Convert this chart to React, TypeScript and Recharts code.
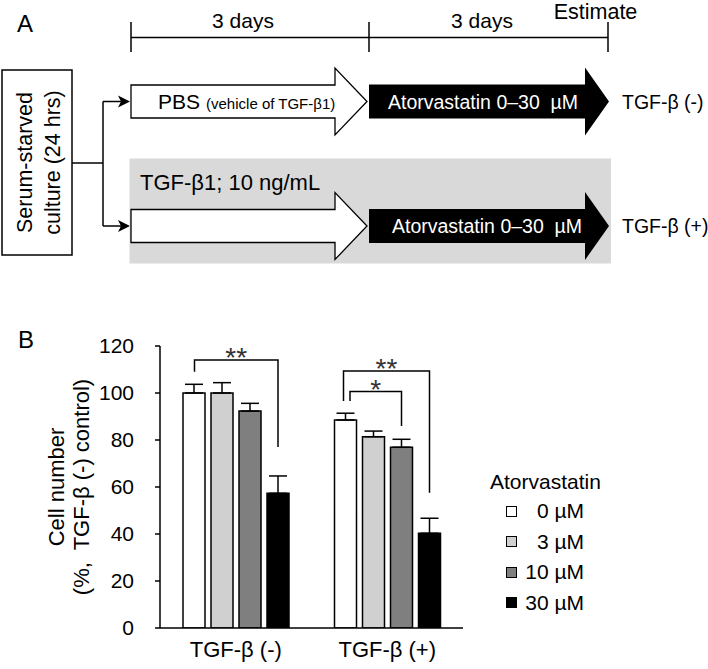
import React from "react";
import { BarChart, Bar, XAxis, YAxis, ErrorBar, Legend, Rectangle } from "recharts";

const FONT = '"Liberation Sans", Arial, sans-serif';

// panel B data
const categories = ["TGF-β (-)", "TGF-β (+)"];
const doseNames = ["0 µM", "3 µM", "10 µM", "30 µM"];
const doseFills = ["#ffffff", "#d0d0d0", "#7f7f7f", "#000000"];
const mean0 = [100, 88.5];
const mean3 = [100, 81.4];
const mean10 = [92.3, 76.9];
const mean30 = [57.3, 40.3];
const sem0 = [3.7, 2.9];
const sem3 = [4.4, 2.4];
const sem10 = [3.3, 3.4];
const sem30 = [7.4, 6.4];
const yTicks = [0, 20, 40, 60, 80, 100, 120];

// significance brackets (values in % units)
const bracketCat = [0, 1, 1];
const bracketFrom = [0, 0, 0];
const bracketTo = [3, 3, 2];
const bracketTop = [114, 109.4, 100.6];
const bracketLeftEnd = [109, 96.6, 96.6];
const bracketRightEnd = [77, 57.6, 86];
const bracketStars = ["**", "**", "*"];
const bracketNudge = [0.5, -2, 4.5];

const BAR_SIZE = 22;
const BAR_GAP = 6;

const rows = categories.map((cat, i) => ({
  idx: i,
  cat,
  c0: mean0[i],
  c3: mean3[i],
  c10: mean10[i],
  c30: mean30[i],
  e0: [0, sem0[i]],
  e3: [0, sem3[i]],
  e10: [0, sem10[i]],
  e30: [0, sem30[i]],
}));

// last bar of each group also draws the brackets for that group
function BarWithBrackets(props: any) {
  const { x, y, width, height, payload } = props;
  const unit = height / payload.c30;
  const base = y + height;
  const yOf = (v: number) => base - v * unit;
  const step = width + BAR_GAP;
  const centerOf = (s: number) => x + width / 2 - (3 - s) * step;
  return (
    <g>
      <Rectangle {...props} />
      {bracketCat.map((c, k) => {
        if (c !== payload.idx) return null;
        const xl = centerOf(bracketFrom[k]) + bracketNudge[k];
        const xr = centerOf(bracketTo[k]);
        const yt = yOf(bracketTop[k]);
        return (
          <g key={k}>
            <polyline
              points={`${xl},${yOf(bracketLeftEnd[k])} ${xl},${yt} ${xr},${yt} ${xr},${yOf(bracketRightEnd[k])}`}
              fill="none"
              stroke="#000"
              strokeWidth={1.5}
            />
            <text
              x={(xl + xr) / 2}
              y={yt + 7}
              textAnchor="middle"
              fontSize={28}
              fontFamily={FONT}
              fill="#333"
              stroke="none"
            >
              {bracketStars[k]}
            </text>
          </g>
        );
      })}
    </g>
  );
}

function YLabel({ viewBox }: any) {
  const x1 = viewBox.x - 44;
  const x2 = viewBox.x - 19;
  const cy = viewBox.y + viewBox.height / 2;
  return (
    <g fontFamily={FONT} fontSize={22} fill="#000">
      <text x={x1} y={cy} transform={`rotate(-90 ${x1} ${cy})`} textAnchor="middle" dominantBaseline="central">
        Cell number
      </text>
      <text x={x2} y={cy} transform={`rotate(-90 ${x2} ${cy})`} textAnchor="middle" dominantBaseline="central" style={{ whiteSpace: "pre" }}>
        (%,  TGF-β (-) control)
      </text>
    </g>
  );
}

function DoseLegend({ payload }: any) {
  const items = (payload && payload.length ? [...payload] : doseNames.map((n, i) => ({ value: n, color: doseFills[i] }))).sort(
    (a: any, b: any) => doseNames.indexOf(a.value) - doseNames.indexOf(b.value)
  );
  return (
    <div style={{ fontFamily: FONT, fontSize: 21, color: "#000" }}>
      <div style={{ height: 24, lineHeight: "24px", marginBottom: 2 }}>Atorvastatin</div>
      {items.map((it: any) => (
        <div key={it.value} style={{ display: "flex", alignItems: "center", height: 30.5 }}>
          <div
            style={{
              width: 11,
              height: 11,
              boxSizing: "border-box",
              border: "1.5px solid #000",
              background: it.color,
              marginLeft: 16,
            }}
          />
          <div style={{ width: 67, textAlign: "right", lineHeight: "24px" }}>{it.value}</div>
        </div>
      ))}
    </div>
  );
}

function whiteArrow(cy: number) {
  return `131,${cy - 16.5} 335,${cy - 16.5} 335,${cy - 33.5} 367,${cy} 335,${cy + 33.5} 335,${cy + 16.5} 131,${cy + 16.5}`;
}
function blackArrow(cy: number) {
  return `369,${cy - 17} 585,${cy - 17} 585,${cy - 34} 609,${cy} 585,${cy + 34} 585,${cy + 17} 369,${cy + 17}`;
}
function arrowHead(tx: number, cy: number) {
  return `${tx},${cy} ${tx - 12},${cy - 6} ${tx - 9},${cy} ${tx - 12},${cy + 6}`;
}

function Scheme() {
  const r1 = 101.5;
  const r2 = 226;
  return (
    <svg width={708} height={669} style={{ position: "absolute", left: 0, top: 0 }} fontFamily={FONT}>
      <text x={17} y={32} fontSize={24}>A</text>
      <text x={18} y={348} fontSize={24}>B</text>

      {/* timeline */}
      <g stroke="#000" strokeWidth={1.5}>
        <line x1={131} y1={37.5} x2={608} y2={37.5} />
        <line x1={131} y1={22} x2={131} y2={52} />
        <line x1={369} y1={22} x2={369} y2={52} />
        <line x1={608} y1={22} x2={608} y2={52} />
      </g>
      <text x={243} y={28} fontSize={21} textAnchor="middle">3 days</text>
      <text x={482} y={28} fontSize={21} textAnchor="middle">3 days</text>
      <text x={595.5} y={19} fontSize={21.5} textAnchor="middle">Estimate</text>

      {/* starting culture */}
      <rect x={2} y={70} width={70} height={185} fill="#fff" stroke="#000" strokeWidth={1.5} />
      <text x={25} y={162.5} fontSize={21.5} textAnchor="middle" dominantBaseline="central" transform="rotate(-90 25 162.5)">
        Serum-starved
      </text>
      <text x={53} y={162.5} fontSize={21.5} textAnchor="middle" dominantBaseline="central" transform="rotate(-90 53 162.5)">
        culture (24 hrs)
      </text>
      <g stroke="#000" strokeWidth={1.5} fill="none">
        <line x1={72} y1={163} x2={103} y2={163} />
        <line x1={103} y1={r1} x2={103} y2={r2} />
        <line x1={103} y1={r1} x2={124} y2={r1} />
        <line x1={103} y1={r2} x2={124} y2={r2} />
      </g>
      <polygon points={arrowHead(130, r1)} fill="#000" />
      <polygon points={arrowHead(130, r2)} fill="#000" />

      {/* TGF band */}
      <rect x={129.5} y={158.5} width={481.5} height={105} fill="#d9d9d9" />
      <text x={140} y={189.5} fontSize={22}>TGF-β1; 10 ng/mL</text>

      <polygon points={whiteArrow(r1)} fill="#fff" stroke="#000" strokeWidth={1.3} />
      <polygon points={whiteArrow(r2)} fill="#fff" stroke="#000" strokeWidth={1.3} />
      <polygon points={blackArrow(r1)} fill="#000" />
      <polygon points={blackArrow(r2)} fill="#000" />

      <text x={158} y={r1 + 7.5} fontSize={21}>
        PBS<tspan fontSize={15} dx={6}>(vehicle of TGF-β1)</tspan>
      </text>
      <text x={388} y={r1 + 7} fontSize={19.5} fill="#fff" style={{ whiteSpace: "pre" }}>
        Atorvastatin 0–30  µM
      </text>
      <text x={392} y={r2 + 7} fontSize={19.5} fill="#fff" style={{ whiteSpace: "pre" }}>
        Atorvastatin 0–30  µM
      </text>
      <text x={622} y={r1 + 7} fontSize={19.5}>TGF-β (-)</text>
      <text x={622} y={r2 + 7} fontSize={19.5}>TGF-β (+)</text>
    </svg>
  );
}

export default function App() {
  const keys = ["c0", "c3", "c10", "c30"];
  const errKeys = ["e0", "e3", "e10", "e30"];
  return (
    <div style={{ position: "absolute", left: 0, top: 0, width: 708, height: 669, background: "#fff" }}>
      <Scheme />
      <div style={{ position: "absolute", left: 0, top: 300 }}>
        <BarChart
          width={708}
          height={369}
          data={rows}
          barGap={BAR_GAP}
          margin={{ top: 46, right: 245, left: 100, bottom: 11 }}
          style={{ fontFamily: FONT }}
        >
          <XAxis
            dataKey="cat"
            height={30}
            tickLine={false}
            tickSize={0}
            tickMargin={13}
            axisLine={{ stroke: "#000", strokeWidth: 1.5 }}
            tick={{ fill: "#000", fontSize: 22, fontFamily: FONT }}
          />
          <YAxis
            width={60}
            domain={[0, 120]}
            ticks={yTicks}
            interval={0}
            allowDataOverflow
            tickSize={5}
            tickMargin={21}
            axisLine={{ stroke: "#000", strokeWidth: 1.5 }}
            tickLine={{ stroke: "#000", strokeWidth: 1.5 }}
            tick={{ fill: "#000", fontSize: 21, fontFamily: FONT }}
            label={{ content: (p: any) => <YLabel viewBox={p.viewBox} /> }}
          />
          <Legend
            content={<DoseLegend />}
            layout="vertical"
            align="center"
            verticalAlign="middle"
            wrapperStyle={{ left: 490, top: 170, width: 130 }}
          />
          {keys.map((k, i) => (
            <Bar
              key={k}
              dataKey={k}
              name={doseNames[i]}
              fill={doseFills[i]}
              stroke="#000"
              strokeWidth={1.5}
              barSize={BAR_SIZE}
              isAnimationActive={false}
              shape={i === 3 ? (p: any) => <BarWithBrackets {...p} /> : undefined}
            >
              <ErrorBar dataKey={errKeys[i]} width={9} stroke="#000" strokeWidth={1.5} direction="y" />
            </Bar>
          ))}
        </BarChart>
      </div>
    </div>
  );
}
